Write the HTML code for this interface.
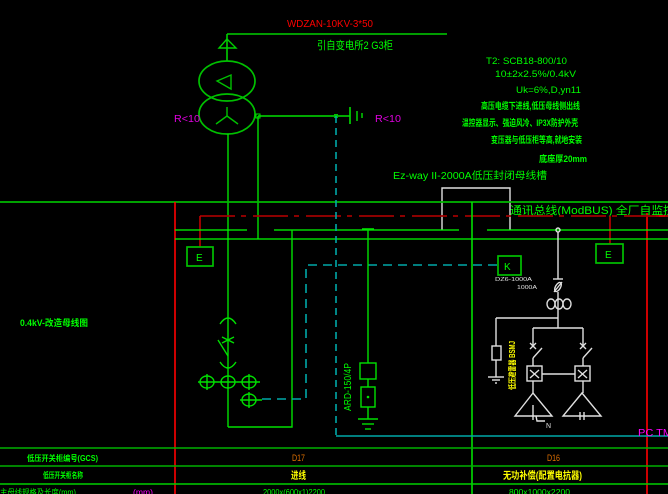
<!DOCTYPE html>
<html><head><meta charset="utf-8"><style>
html,body{margin:0;padding:0;background:#000;}
svg{display:block;}
text{font-family:"Liberation Sans","Noto Sans CJK SC",sans-serif;}
.b{font-weight:bold;}
</style></head><body>
<svg width="668" height="494" viewBox="0 0 668 494" xmlns="http://www.w3.org/2000/svg">
<rect width="668" height="494" fill="#000"/>

<!-- top feeder -->
<text x="287" y="27" fill="#ff0000" font-size="10" textLength="86" lengthAdjust="spacingAndGlyphs">WDZAN-10KV-3*50</text>
<line x1="227" y1="34" x2="447" y2="34" stroke="#00d000" stroke-width="1.6"/>
<line x1="227" y1="34" x2="227" y2="61" stroke="#00d000" stroke-width="1.6"/>
<polygon points="227,39 219,48 236,48" fill="none" stroke="#00d000" stroke-width="1.4"/>
<text x="317" y="49" fill="#00ff00" font-size="11" textLength="76" lengthAdjust="spacingAndGlyphs">引自变电所2 G3柜</text>

<!-- transformer -->
<ellipse cx="227" cy="81" rx="28" ry="20" fill="none" stroke="#00c000" stroke-width="1.7"/>
<ellipse cx="227" cy="114" rx="28" ry="20" fill="none" stroke="#00c000" stroke-width="1.7"/>
<polygon points="217,81 231,75 231,89" fill="none" stroke="#00c000" stroke-width="1.4"/>
<line x1="227" y1="107" x2="227" y2="116" stroke="#00c000" stroke-width="1.4"/>
<line x1="227" y1="116" x2="216" y2="124" stroke="#00c000" stroke-width="1.4"/>
<line x1="227" y1="116" x2="238" y2="124" stroke="#00c000" stroke-width="1.4"/>
<text x="174" y="122" fill="#e000e0" font-size="10" textLength="26" lengthAdjust="spacingAndGlyphs">R&lt;10</text>

<!-- neutral / ground -->
<line x1="258" y1="116" x2="350" y2="116" stroke="#00e000" stroke-width="1.4"/>
<rect x="256" y="114" width="4" height="4" fill="none" stroke="#00e000" stroke-width="1"/>
<rect x="334" y="114" width="4" height="4" fill="#00c000"/>
<line x1="350" y1="107" x2="350" y2="124" stroke="#00e000" stroke-width="1.6"/>
<line x1="357" y1="111" x2="357" y2="121" stroke="#00e000" stroke-width="1.4"/>
<line x1="362" y1="113" x2="362" y2="118" stroke="#00e000" stroke-width="1.4"/>
<text x="375" y="122" fill="#e000e0" font-size="10" textLength="26" lengthAdjust="spacingAndGlyphs">R&lt;10</text>

<line x1="228" y1="134" x2="228" y2="427" stroke="#00e000" stroke-width="1.4"/>
<line x1="258" y1="116" x2="258" y2="239" stroke="#00e000" stroke-width="1.4"/>

<!-- spec text -->
<g fill="#00ff00" font-size="9">
<text x="486" y="64" textLength="81" lengthAdjust="spacingAndGlyphs">T2: SCB18-800/10</text>
<text x="495" y="77" textLength="81" lengthAdjust="spacingAndGlyphs">10±2x2.5%/0.4kV</text>
<text x="516" y="93" textLength="65" lengthAdjust="spacingAndGlyphs">Uk=6%,D,yn11</text>
<text class="b" x="481" y="109" textLength="99" lengthAdjust="spacingAndGlyphs">高压电缆下进线,低压母线侧出线</text>
<text class="b" x="462" y="126" textLength="116" lengthAdjust="spacingAndGlyphs">温控器显示、强迫风冷、IP3X防护外壳</text>
<text class="b" x="491" y="143" textLength="91" lengthAdjust="spacingAndGlyphs">变压器与低压柜等高,就地安装</text>
<text class="b" x="539" y="162" textLength="48" lengthAdjust="spacingAndGlyphs">底座厚20mm</text>
</g>
<text x="393" y="179" fill="#00ff00" font-size="10" textLength="154" lengthAdjust="spacingAndGlyphs">Ez-way II-2000A低压封闭母线槽</text>

<!-- white box -->
<polyline points="442,230 442,188 510,188 510,230" fill="none" stroke="#e0e0e0" stroke-width="1.4"/>

<!-- main horizontal -->
<line x1="0" y1="202" x2="668" y2="202" stroke="#00b800" stroke-width="1.8"/>
<text x="510" y="214" fill="#00ff00" font-size="11" textLength="165" lengthAdjust="spacingAndGlyphs">通讯总线(ModBUS)  全厂自监控</text>

<!-- red verticals -->
<line x1="175" y1="202" x2="175" y2="494" stroke="#ff0000" stroke-width="1.6"/>
<line x1="647" y1="213" x2="647" y2="494" stroke="#ff0000" stroke-width="1.6"/>
<line x1="656" y1="216" x2="668" y2="216" stroke="#ff0000" stroke-width="1.6"/>

<!-- dark red dashed -->
<line x1="200" y1="216" x2="668" y2="216" stroke="#a00000" stroke-width="1.8" stroke-dasharray="35 6 5 7"/>
<line x1="200" y1="216" x2="200" y2="247" stroke="#c00000" stroke-width="1.6"/>
<line x1="610" y1="216" x2="610" y2="244" stroke="#c00000" stroke-width="1.6"/>

<!-- E boxes -->
<rect x="187" y="247" width="26" height="19" fill="none" stroke="#00c000" stroke-width="1.7"/>
<text x="196" y="261" fill="#00ff00" font-size="10">E</text>
<rect x="596" y="244" width="27" height="19" fill="none" stroke="#00c000" stroke-width="1.7"/>
<text x="605" y="258" fill="#00ff00" font-size="10">E</text>

<!-- busbars -->
<line x1="175" y1="230" x2="247" y2="230" stroke="#00ff00" stroke-width="1.3"/>
<line x1="274" y1="230" x2="459" y2="230" stroke="#00ff00" stroke-width="1.3"/>
<line x1="487" y1="230" x2="668" y2="230" stroke="#00ff00" stroke-width="1.3"/>
<line x1="175" y1="239" x2="668" y2="239" stroke="#00ff00" stroke-width="1.3"/>
<line x1="472" y1="202" x2="472" y2="494" stroke="#00e000" stroke-width="1.6"/>

<!-- incomer panel -->
<polyline points="292,230 292,427 228,427" fill="none" stroke="#00e000" stroke-width="1.4"/>
<g stroke="#00e000" stroke-width="1.4" fill="none">
<path d="M220,324 Q228,312 236,324"/>
<path d="M222,337 L234,343 M222,343 L234,337"/>
<line x1="218" y1="340" x2="228" y2="356"/>
<path d="M220,362 Q228,374 236,362"/>
<ellipse cx="207" cy="382" rx="7" ry="6"/>
<ellipse cx="228" cy="382" rx="7" ry="6"/>
<ellipse cx="249" cy="382" rx="7" ry="6"/>
<line x1="207" y1="374" x2="207" y2="390"/>
<line x1="249" y1="374" x2="249" y2="390"/>
<line x1="198" y1="382" x2="260" y2="382"/>
<ellipse cx="249" cy="400" rx="7" ry="6"/>
<line x1="249" y1="392" x2="249" y2="408"/>
<line x1="240" y1="400" x2="262" y2="400"/>
</g>
<polyline points="262,399 306,399 306,265 497,265" fill="none" stroke="#00a8a8" stroke-width="1.6" stroke-dasharray="9 6"/>

<!-- cyan loop -->
<polyline points="336,116 336,436" fill="none" stroke="#00a8a8" stroke-width="1.6" stroke-dasharray="7 5"/>
<line x1="336" y1="436" x2="668" y2="436" stroke="#00a8a8" stroke-width="1.6"/>

<!-- ARD -->
<line x1="362" y1="229" x2="374" y2="229" stroke="#00e000" stroke-width="1.6"/>
<line x1="368" y1="229" x2="368" y2="419" stroke="#00e000" stroke-width="1.4"/>
<rect x="360" y="363" width="16" height="16" fill="#000" stroke="#00e000" stroke-width="1.4"/>
<rect x="361" y="387" width="14" height="20" fill="#000" stroke="#00e000" stroke-width="1.4"/>
<circle cx="368" cy="397" r="1.3" fill="#00e000"/>
<line x1="358" y1="419" x2="378" y2="419" stroke="#00e000" stroke-width="1.4"/>
<line x1="362" y1="424" x2="374" y2="424" stroke="#00e000" stroke-width="1.4"/>
<line x1="365" y1="429" x2="371" y2="429" stroke="#00e000" stroke-width="1.4"/>
<text transform="translate(351,411) rotate(-90)" fill="#00ff00" font-size="10" textLength="48" lengthAdjust="spacingAndGlyphs">ARD-150/4P</text>

<!-- K box -->
<rect x="498" y="256" width="23" height="19" fill="none" stroke="#00c000" stroke-width="1.7"/>
<text x="504" y="270" fill="#00ff00" font-size="10">K</text>
<text x="495" y="281" fill="#e0e0e0" font-size="5" textLength="37" lengthAdjust="spacingAndGlyphs">DZ6-1000A</text>
<text x="517" y="289" fill="#e0e0e0" font-size="5" textLength="20" lengthAdjust="spacingAndGlyphs">1000A</text>

<!-- capacitor feeder -->
<g stroke="#e0e0e0" stroke-width="1.4" fill="none">
<circle cx="558" cy="230" r="2"/>
<line x1="558" y1="232" x2="558" y2="279"/>
<line x1="553" y1="279" x2="563" y2="279"/>
<ellipse cx="558" cy="287" rx="2.5" ry="5" transform="rotate(30 558 287)"/>
<line x1="554" y1="292" x2="562" y2="282"/>
<line x1="558" y1="292" x2="558" y2="328"/>
<ellipse cx="551" cy="304" rx="4" ry="5"/>
<ellipse cx="559" cy="304" rx="4" ry="5"/>
<ellipse cx="567" cy="304" rx="4" ry="5"/>
<line x1="496" y1="318" x2="558" y2="318"/>
<line x1="496" y1="318" x2="496" y2="377"/>
<rect x="492" y="346" width="9" height="14" fill="#000"/>
<line x1="488" y1="377" x2="504" y2="377"/>
<line x1="492" y1="380" x2="500" y2="380"/>
<line x1="495" y1="383" x2="497" y2="383"/>
<line x1="533" y1="328" x2="583" y2="328"/>
<line x1="533" y1="328" x2="533" y2="346"/>
<line x1="583" y1="328" x2="583" y2="346"/>
<path d="M530,343 L536,349 M530,349 L536,343"/>
<path d="M580,343 L586,349 M580,349 L586,343"/>
<line x1="533" y1="358" x2="542" y2="348"/>
<line x1="583" y1="358" x2="592" y2="348"/>
<line x1="533" y1="358" x2="533" y2="366"/>
<line x1="583" y1="358" x2="583" y2="366"/>
<rect x="527" y="366" width="15" height="15"/>
<rect x="575" y="366" width="15" height="15"/>
<path d="M530,370 L539,378 M539,370 L530,378"/>
<path d="M578,370 L587,378 M587,370 L578,378"/>
<line x1="542" y1="374" x2="575" y2="374"/>
<line x1="533" y1="381" x2="533" y2="393"/>
<line x1="583" y1="381" x2="583" y2="393"/>
<polygon points="533,393 515,416 552,416"/>
<polygon points="582,393 563,416 601,416"/>
<line x1="533" y1="405" x2="533" y2="420"/>
<polyline points="536,416 537,421 545,421"/>
<line x1="580" y1="412" x2="580" y2="420"/>
<line x1="584" y1="412" x2="584" y2="420"/>
</g>
<text x="546" y="428" fill="#e0e0e0" font-size="7">N</text>
<text class="b" transform="translate(515,390) rotate(-90)" fill="#ffff00" font-size="8" textLength="49" lengthAdjust="spacingAndGlyphs">低压避雷器 BSMJ</text>
<text x="638" y="436" fill="#ff00ff" font-size="10" textLength="34" lengthAdjust="spacingAndGlyphs">PC TM</text>

<!-- left label -->
<text class="b" x="20" y="326" fill="#00ff00" font-size="9" textLength="68" lengthAdjust="spacingAndGlyphs">0.4kV-改造母线图</text>

<!-- table -->
<line x1="0" y1="448" x2="668" y2="448" stroke="#00b000" stroke-width="1.6"/>
<line x1="0" y1="466" x2="668" y2="466" stroke="#00b000" stroke-width="1.6"/>
<line x1="0" y1="484" x2="668" y2="484" stroke="#00d000" stroke-width="1.6"/>
<text class="b" x="27" y="461" fill="#00ff00" font-size="8" textLength="71" lengthAdjust="spacingAndGlyphs">低压开关柜编号(GCS)</text>
<text class="b" x="43" y="478" fill="#00ff00" font-size="8" textLength="40" lengthAdjust="spacingAndGlyphs">低压开关柜名称</text>
<text x="292" y="461" fill="#e07000" font-size="9" textLength="13" lengthAdjust="spacingAndGlyphs">D17</text>
<text x="547" y="461" fill="#e07000" font-size="9" textLength="13" lengthAdjust="spacingAndGlyphs">D16</text>
<text class="b" x="291" y="479" fill="#ffff00" font-size="10" textLength="15" lengthAdjust="spacingAndGlyphs">进线</text>
<text class="b" x="503" y="479" fill="#ffff00" font-size="10" textLength="79" lengthAdjust="spacingAndGlyphs">无功补偿(配置电抗器)</text>
<text x="0" y="495" fill="#00ff00" font-size="8" textLength="76" lengthAdjust="spacingAndGlyphs">主母线规格及长度(mm)</text>
<text x="133" y="495" fill="#ff00ff" font-size="8" textLength="20" lengthAdjust="spacingAndGlyphs">(mm)</text>
<text x="263" y="495" fill="#00ff00" font-size="8" textLength="62" lengthAdjust="spacingAndGlyphs">2000x(600x1)2200</text>
<text x="509" y="495" fill="#00ff00" font-size="8" textLength="61" lengthAdjust="spacingAndGlyphs">800x1000x2200</text>
</svg>
</body></html>
